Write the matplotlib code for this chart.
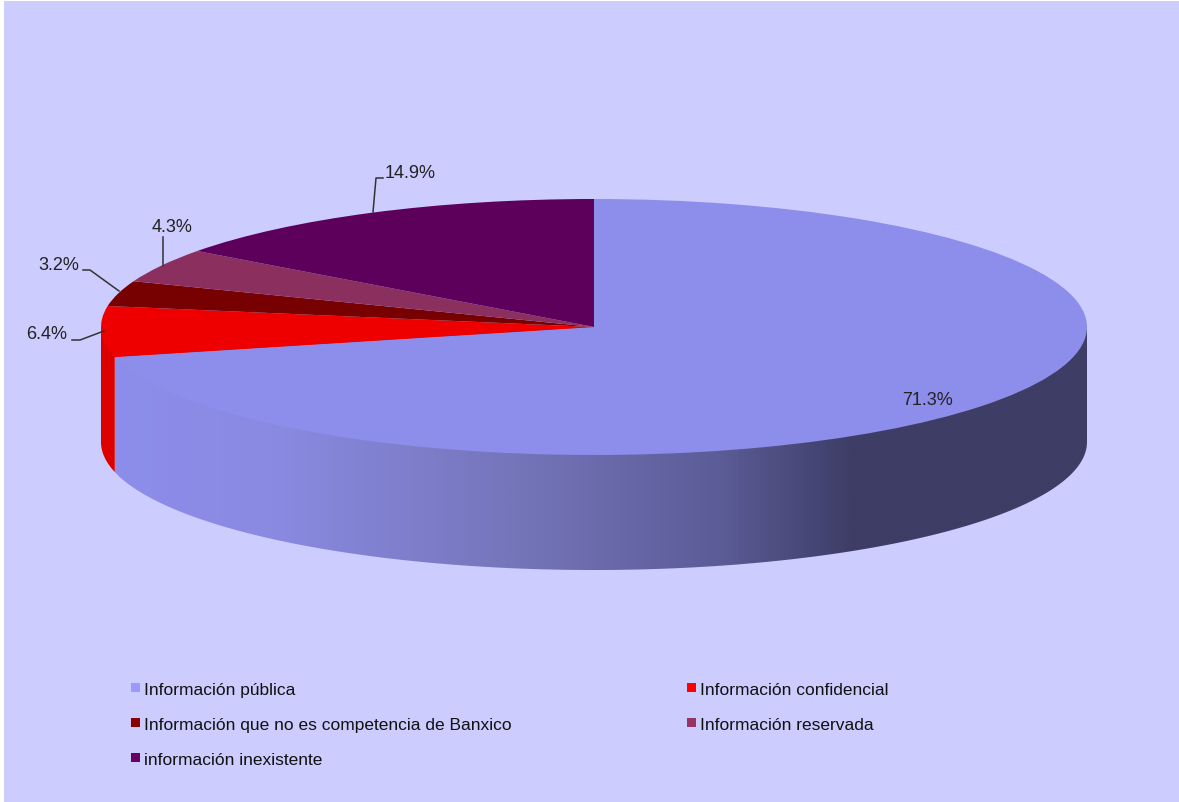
import numpy as np
import matplotlib
matplotlib.use('Agg')
import matplotlib.pyplot as plt
from matplotlib.colors import LinearSegmentedColormap
from matplotlib.patches import Polygon, Rectangle

# chart data
categories = ['Información pública', 'Información confidencial',
              'Información que no es competencia de Banxico',
              'Información reservada', 'información inexistente']
values = [71.3, 6.4, 3.2, 4.3, 14.9]
labels = ['71.3%', '6.4%', '3.2%', '4.3%', '14.9%']
top_colors = ['#8D8DEB', '#EE0000', '#770000', '#8B2F5F', '#5C005C']
legend_colors = ['#9999FF', '#FF0000', '#880000', '#993366', '#660066']

W, H = 1179, 803
cx, cy = 594, 328    # pie centre in pixels
rx, ry = 493, 128    # ellipse radii
depth = 115

plt.rcParams['font.family'] = ['Liberation Sans', 'DejaVu Sans']

fig = plt.figure(figsize=(W / 100, H / 100), dpi=100, facecolor='white')
ax = fig.add_axes([0, 0, 1, 1])


def px(x, y):
    # picture pixels -> pie units
    return (x - cx) / rx, (cy - y) / ry


def arc(a0, a1, drop=0.0, n=200):
    # angles clockwise from 12 o'clock, in degrees
    t = np.radians(np.linspace(a0, a1, n))
    return np.sin(t), np.cos(t) - drop


def wall_points(a0, a1):
    # the part under the top face goes back to the centre so no seam shows
    xb, yb = arc(a0, a1, drop)
    return np.column_stack([np.r_[0, np.sin(np.radians(a0)), xb, np.sin(np.radians(a1))],
                            np.r_[0, np.cos(np.radians(a0)), yb, np.cos(np.radians(a1))]])


wedges, _ = ax.pie(values, colors=top_colors, startangle=90, counterclock=False,
                   radius=1, center=(0, 0), wedgeprops={'linewidth': 0, 'zorder': 5})
ax.set_aspect('auto')

drop = depth / ry
end_public = values[0] / sum(values) * 360

# side wall of the big slice, shaded left to right
wall = Polygon(wall_points(90, end_public), closed=True, transform=ax.transData,
               facecolor='none', edgecolor='none')
ax.add_patch(wall)
shade = LinearSegmentedColormap.from_list('wall', [
    (0.0, '#8D8DEB'), (0.16, '#8A8AE2'), (0.40, '#7676BC'),
    (0.62, '#5C5C98'), (0.76, '#3D3D66'), (1.0, '#3D3D66')])
xt, _ = arc(90, end_public)
im = ax.imshow(np.linspace(0, 1, 512).reshape(1, -1), cmap=shade, aspect='auto',
               extent=(xt.min(), xt.max(), -1 - drop, 1), zorder=2)
im.set_clip_path(wall)

# red wall on the left
ax.add_patch(Polygon(wall_points(end_public, 270), closed=True,
                     facecolor='#DD0000', edgecolor='none', zorder=2))

# background
ax.add_patch(Rectangle(px(4, H), (W - 4) / rx, (H - 2) / ry, facecolor='#CCCCFF',
                       edgecolor='none', zorder=0))

ax.set_xlim(px(0, 0)[0], px(W, 0)[0])
ax.set_ylim(px(0, H)[1], px(0, 0)[1])
ax.axis('off')

# value labels and leader lines
label_pos = [(927, 401), (47, 335), (59, 266), (172, 228), (410, 173)]
leaders = [None,
           [(104, 332), (80, 341), (72, 341)],
           [(119, 292), (90, 271), (83, 271)],
           [(163, 267), (163, 238)],
           [(373, 213), (376, 179), (383, 179)]]
for text, pos, line in zip(labels, label_pos, leaders):
    ax.text(*px(*pos), text, fontsize=13, color='#222222', ha='center', va='center', zorder=7)
    if line:
        pts = np.array([px(*p) for p in line])
        ax.plot(pts[:, 0], pts[:, 1], color='#333333', lw=1.1, zorder=6)

# legend
legend_pos = [(131, 689), (687, 689), (131, 724), (687, 724), (131, 759)]
for name, color, (lx, ly) in zip(categories, legend_colors, legend_pos):
    ax.add_patch(Rectangle(px(lx, ly + 4), 9 / rx, 9 / ry, facecolor=color,
                           edgecolor='none', zorder=6))
    ax.text(*px(lx + 13, ly + 2), name, fontsize=12.5, color='#111111', ha='left', va='center', zorder=7)

fig.savefig('out.png', dpi=100, facecolor='white')
